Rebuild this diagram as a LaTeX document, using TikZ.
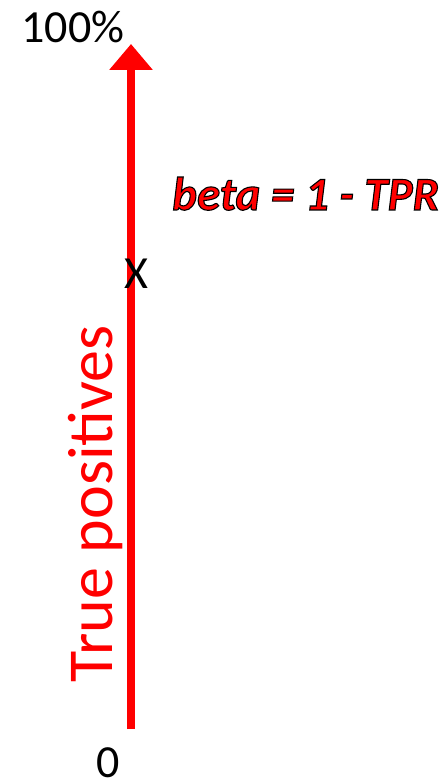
\documentclass[tikz,border=0pt]{standalone}
\usepackage{fontspec}
\setmainfont{Carlito}
\usetikzlibrary{arrows.meta}
\newcommand{\outlined}[1]{\special{pdf:literal direct 0 0 0 RG 1.1 w 2 Tr}#1\special{pdf:literal direct 0 Tr}}
\tikzset{
  axisarrow/.style={draw=red, line width=8pt, -{Triangle[width=42pt,length=26pt]}},
  bigtext/.style={font=\fontsize{46}{50}\selectfont, inner sep=0pt},
  betatext/.style={font=\fontsize{47}{52}\selectfont\bfseries\itshape, inner sep=0pt, anchor=base west, text=red},
}
\begin{document}
\begin{tikzpicture}[x=1pt,y=-1pt]
\useasboundingbox (0,0) rectangle (446,783);
\coordinate (bottom) at (131,729);
\coordinate (top) at (131,44);
\draw[axisarrow] (bottom) -- (top);
\node[bigtext, anchor=base] (top100) at (73,43) {100\%};
\node[bigtext, anchor=base] (zero) at (108,777) {0};
\node[bigtext, anchor=base] (x) at (136,288) {X};
\node[font=\fontsize{64}{68}\selectfont, text=red, inner sep=0pt, rotate=90, anchor=base] (tp) at (112,504) {True positives};
\node[betatext] (beta) at (172,210) {\outlined{beta = 1 - TPR}};
\end{tikzpicture}
\end{document}
